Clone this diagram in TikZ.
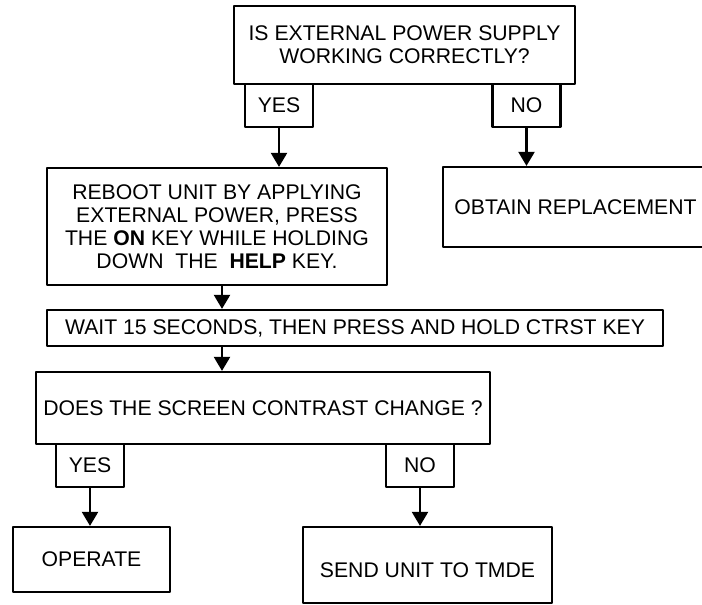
\documentclass[tikz,border=0pt]{standalone}
\usepackage{fontspec}
\setmainfont{Liberation Sans}
\usetikzlibrary{arrows.meta}

\begin{document}
\begin{tikzpicture}[x=0.5pt, y=-0.5pt, line join=round,
    box/.style={draw, line width=1.1pt, rectangle, inner sep=0pt, align=center,
      font=\fontsize{10.6}{11.5}\selectfont},
    tab/.style={box, minimum width=34pt, minimum height=21.5pt},
    flow/.style={line width=1.1pt, -{Triangle[length=7pt, width=8pt]}}]
    \useasboundingbox (0,0) rectangle (702,605);
    % questions and steps
    \node[box, minimum width=170.5pt, minimum height=39pt] (supply) at (404.5,45)
      {IS EXTERNAL POWER SUPPLY\\WORKING CORRECTLY?};
    \node[tab] (yesA) at (279,105.5) {YES};
    \node[tab] (noA) at (526.5,105.5) {NO};
    \node[box, minimum width=170pt, minimum height=58.5pt] (reboot) at (217,226.5)
      {REBOOT UNIT BY APPLYING\\EXTERNAL POWER, PRESS\\THE \textbf{ON} KEY WHILE HOLDING\\DOWN\ \ THE\ \ \textbf{HELP} KEY.};
    \node[box, minimum width=132.5pt, minimum height=40pt] (obtain) at (575.5,207)
      {OBTAIN REPLACEMENT};
    \node[box, minimum width=308pt, minimum height=18pt] (wait) at (355,328)
      {WAIT 15 SECONDS, THEN PRESS AND HOLD CTRST KEY};
    \node[box, minimum width=227pt, minimum height=36pt] (contrast) at (263,408)
      {DOES THE SCREEN CONTRAST CHANGE ?};
    \node[tab] (yesB) at (90,465.5) {YES};
    \node[tab] (noB) at (420,465.5) {NO};
    \node[box, minimum width=78.5pt, minimum height=32.5pt] (operate) at (91.5,559.5)
      {OPERATE};
    \node[box, minimum width=124.5pt, minimum height=38pt, text height=12.6pt, text depth=0pt] (tmde) at (427.5,565)
      {SEND UNIT TO TMDE};
    % arrows
    \draw[flow] (yesA.south) -- (yesA.south |- reboot.north);
    \draw[flow] (noA.south) -- (noA.south |- obtain.north);
    \draw[flow] ([xshift=2.5pt]reboot.south) -- ([xshift=2.5pt]reboot.south |- wait.north);
    \draw[flow] ([xshift=2.5pt]reboot.south |- wait.south) -- ([xshift=2.5pt]reboot.south |- contrast.north);
    \draw[flow] (yesB.south) -- (yesB.south |- operate.north);
    \draw[flow] (noB.south) -- (noB.south |- tmde.north);
\end{tikzpicture}
\end{document}
